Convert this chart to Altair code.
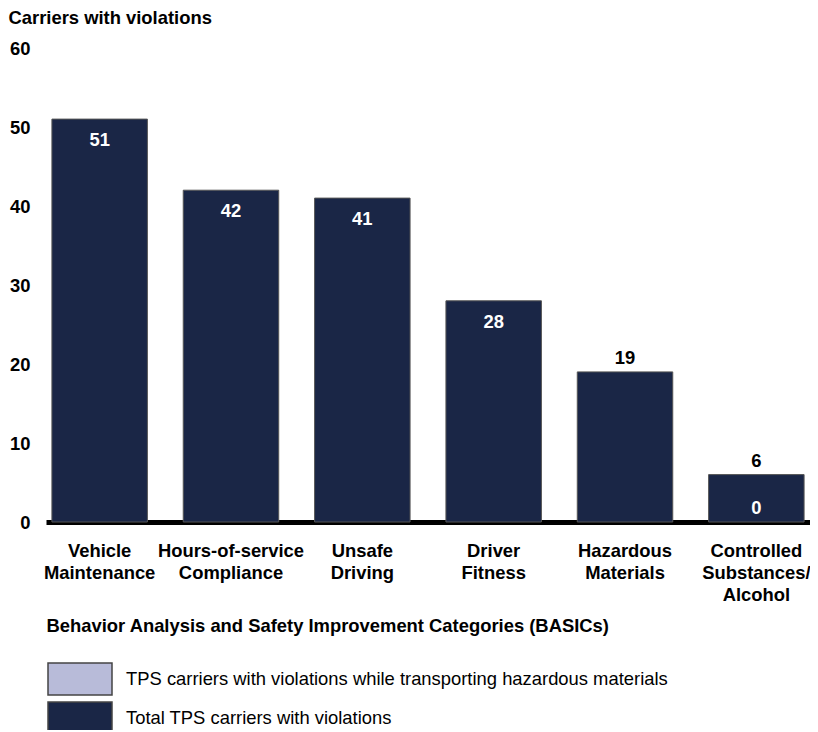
import altair as alt
import pandas as pd

categories = [
    "Vehicle\nMaintenance",
    "Hours-of-service\nCompliance",
    "Unsafe\nDriving",
    "Driver\nFitness",
    "Hazardous\nMaterials",
    "Controlled\nSubstances/\nAlcohol",
]
total_values = [51, 42, 41, 28, 19, 6]
hazmat_values = [None, None, None, None, None, 0]

series_names = [
    "TPS carriers with violations while transporting hazardous materials",
    "Total TPS carriers with violations",
]
series_colors = ["#b8bbd9", "#1a2646"]
y_ticks = [0, 10, 20, 30, 40, 50, 60]

FONT = "Liberation Sans"
FS = 18.4

df = pd.DataFrame({
    "category": categories,
    "total": total_values,
    "hazmat": hazmat_values,
    "series": [series_names[1]] * len(categories),
})

x_enc = alt.X(
    "category:N",
    sort=categories,
    scale=alt.Scale(paddingInner=0.273, paddingOuter=0.045),
    axis=alt.Axis(
        title="Behavior Analysis and Safety Improvement Categories (BASICs)",
        titleFont=FONT, titleFontSize=FS, titleFontWeight="bold", titleColor="black",
        titleAnchor="start", titleAlign="left", titleX=0, titleY=103,
        titleBaseline="middle",
        labelExpr="split(datum.label, '\\n')",
        labelFont=FONT, labelFontSize=FS, labelFontWeight="bold", labelColor="black",
        labelAngle=0, labelPadding=19, labelLineHeight=22, labelBaseline="top",
        ticks=False, domain=True, domainColor="black", domainWidth=5,
    ),
)

y_scale = alt.Scale(domain=[0, 60], nice=False)

bars = alt.Chart(df).mark_bar(stroke="#555555", strokeWidth=1).encode(
    x=x_enc,
    y=alt.Y(
        "total:Q",
        scale=y_scale,
        axis=alt.Axis(
            values=y_ticks, grid=False, ticks=False, domain=False,
            labelFont=FONT, labelFontSize=FS, labelFontWeight="bold", labelColor="black",
            labelPadding=16,
            title="Carriers with violations",
            titleFont=FONT, titleFontSize=FS, titleFontWeight="bold", titleColor="black",
            titleAngle=0, titleAlign="left", titleBaseline="alphabetic",
            titleX=-38, titleY=-25,
        ),
    ),
    color=alt.Color(
        "series:N",
        scale=alt.Scale(domain=series_names, range=series_colors),
        legend=alt.Legend(
            title=None, orient="none", legendX=17, legendY=614,
            symbolType="M-2,-1H2V1H-2Z", symbolSize=1024,
            symbolStrokeColor="#444444", symbolStrokeWidth=1.5,
            symbolOpacity=1,
            labelFont=FONT, labelFontSize=FS, labelColor="black",
            labelOffset=29, rowPadding=1, padding=0, labelLimit=700,
        ),
    ),
)

inside = alt.Chart(df).transform_filter("datum.total >= 25").mark_text(
    font=FONT, fontSize=FS, fontWeight="bold", color="white", baseline="middle", dy=21
).encode(x=alt.X("category:N", sort=categories), y=alt.Y("total:Q", scale=y_scale), text="total:Q")

above = alt.Chart(df).transform_filter("datum.total < 25").mark_text(
    font=FONT, fontSize=FS, fontWeight="bold", color="black", baseline="middle", dy=-14
).encode(x=alt.X("category:N", sort=categories), y=alt.Y("total:Q", scale=y_scale), text="total:Q")

hazlabel = alt.Chart(df).transform_filter("isValid(datum.hazmat)").mark_text(
    font=FONT, fontSize=FS, fontWeight="bold", color="white", baseline="middle", dy=-14
).encode(x=alt.X("category:N", sort=categories), y=alt.Y("hazmat:Q", scale=y_scale), text="hazmat:Q")

chart = alt.layer(bars, inside, above, hazlabel).properties(
    width=764, height=474,
    autosize=alt.AutoSizeParams(type="none"),
    padding={"left": 38, "top": 40, "right": 0, "bottom": 208},
    background="white",
).configure_view(stroke=None, strokeWidth=0)

chart.save("out.html", embed_options={"renderer": "svg", "actions": False})
